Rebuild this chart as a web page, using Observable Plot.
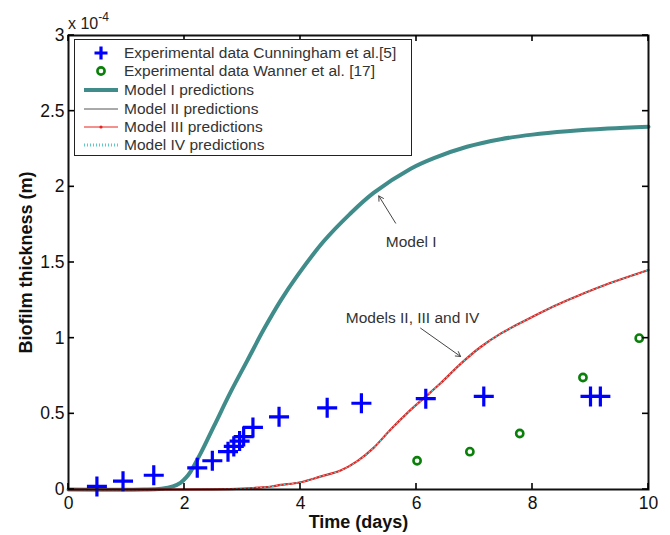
<!DOCTYPE html>
<html><head><meta charset="utf-8">
<script src="https://cdn.jsdelivr.net/npm/d3@7"></script>
<script src="https://cdn.jsdelivr.net/npm/@observablehq/plot@0.6"></script>
<style>
body{margin:0;background:#fff;}
#wrap{position:relative;width:670px;height:535px;font-family:"Liberation Sans",Arial,sans-serif;color:#222;}
#wrap svg{font-family:"Liberation Sans",Arial,sans-serif;}
g[aria-label="x-axis label"] text, g[aria-label="y-axis label"] text{font-weight:bold;font-size:18px;fill:#111;}
#legend{position:absolute;left:74px;top:39px;width:338px;height:117px;border:1.5px solid #222;background:#fff;box-sizing:border-box;}
.row{position:absolute;left:0;height:18px;display:flex;align-items:center;font-size:15.5px;color:#333;white-space:nowrap;}
.row svg{width:44px;height:18px;margin-left:4px;margin-right:1px;}
#expo{position:absolute;left:68px;top:12px;font-size:16px;color:#222;}
#expo sup{font-size:12px;position:relative;top:-2px;}
</style></head><body>
<div id="wrap"></div>
<script>
// Experimental data (thickness in units of 1e-4 m)
const cunninghamX = [0.49, 0.94, 1.47, 2.22, 2.48, 2.75, 2.85, 2.95, 3.02, 3.18, 3.63, 4.46, 5.05, 6.16, 7.16, 9.00, 9.17];
const cunninghamY = [0.02, 0.055, 0.094, 0.143, 0.19, 0.25, 0.285, 0.32, 0.35, 0.41, 0.48, 0.54, 0.57, 0.60, 0.615, 0.615, 0.615];
const wannerX = [6.01, 6.92, 7.78, 8.87, 9.84];
const wannerY = [0.19, 0.25, 0.37, 0.74, 1.00];
// Model predictions
const model1X = [0, 1.3, 1.6, 1.8, 1.93, 2.03, 2.10, 2.28, 2.51, 2.79, 3.08, 3.37, 3.66, 3.94, 4.40, 4.85, 5.26, 5.9, 6.3, 6.87, 7.45, 8.0, 8.6, 9.3, 10];
const model1Y = [0, 0, 0.005, 0.02, 0.044, 0.08, 0.115, 0.24, 0.42, 0.64, 0.85, 1.06, 1.25, 1.41, 1.64, 1.82, 1.96, 2.12, 2.19, 2.265, 2.315, 2.345, 2.367, 2.385, 2.397];
const model2X = [0, 2.5, 3.0, 3.5, 3.66, 4.0, 4.34, 4.69, 4.98, 5.26, 5.55, 5.84, 6.13, 6.41, 6.76, 7.10, 7.45, 7.79, 8.2, 8.6, 9.17, 10];
const model2Y = [0, 0.001, 0.006, 0.02, 0.03, 0.048, 0.085, 0.125, 0.187, 0.275, 0.395, 0.505, 0.605, 0.70, 0.83, 0.94, 1.03, 1.10, 1.18, 1.25, 1.34, 1.45];
// Axis ticks
const xTicks = [0, 2, 4, 6, 8, 10];
const yTicks = [0, 0.5, 1, 1.5, 2, 2.5, 3];
// Annotations
const annText = ["Model I", "Models II, III and IV"];
const annTextX = [5.47, 4.78];
const annTextY = [1.635, 1.134];
const arrowX1 = [5.64, 6.07], arrowY1 = [1.76, 1.066];
const arrowX2 = [5.35, 6.76], arrowY2 = [1.94, 0.879];
const legendLabels = ["Experimental data Cunningham et al.[5]", "Experimental data Wanner et al. [17]", "Model I predictions", "Model II predictions", "Model III predictions", "Model IV predictions"];

const cun = cunninghamX.map((x, i) => ({x, y: cunninghamY[i]}));
const wan = wannerX.map((x, i) => ({x, y: wannerY[i]}));
const m1 = model1X.map((x, i) => ({x, y: model1Y[i]}));
const m2 = model2X.map((x, i) => ({x, y: model2Y[i]}));
const ann = annText.map((t, i) => ({t, x: annTextX[i], y: annTextY[i]}));
const arr = arrowX1.map((x1, i) => ({x1, y1: arrowY1[i], x2: arrowX2[i], y2: arrowY2[i]}));

const teal = "#3f8c8a";
const W = 670, H = 535, mL = 68, mR = 22, mT = 35, mB = 46;
const plot = Plot.plot({
  width: W, height: H,
  marginLeft: mL, marginRight: mR, marginTop: mT, marginBottom: mB,
  style: {fontSize: "17.5px", fontFamily: "Liberation Sans, Arial, sans-serif", color: "#111", background: "#fff"},
  x: {domain: [0, 10]},
  y: {domain: [0, 3]},
  marks: [
    Plot.line(m1, {x: "x", y: "y", stroke: teal, strokeWidth: 4, curve: "catmull-rom"}),
    Plot.line(m2, {x: "x", y: "y", stroke: "black", strokeWidth: 1, curve: "catmull-rom"}),
    Plot.line(m2, {x: "x", y: "y", stroke: "#e8221f", strokeWidth: 2.2, curve: "catmull-rom"}),
    Plot.line(m2, {x: "x", y: "y", stroke: "#5fc8c8", strokeWidth: 1.2, strokeDasharray: "1,3", curve: "catmull-rom"}),
    Plot.dot(cun, {x: "x", y: "y", symbol: "plus", r: 6.5, stroke: "#0000ff", strokeWidth: 3.2}),
    Plot.dot(wan, {x: "x", y: "y", symbol: "circle", r: 3.6, stroke: "#0a800a", strokeWidth: 2.6, fill: "none"}),
    Plot.arrow(arr, {x1: "x1", y1: "y1", x2: "x2", y2: "y2", stroke: "#444", strokeWidth: 1, headLength: 8}),
    Plot.text(ann, {x: "x", y: "y", text: "t", textAnchor: "start", fontSize: 15.5, fill: "#333"}),
    Plot.frame({stroke: "#111", strokeWidth: 2}),
    Plot.axisX({ticks: xTicks, tickSize: 0, tickPadding: 7, tickFormat: d => d, label: "Time (days)", labelAnchor: "center", labelArrow: "none", labelOffset: 38}),
    Plot.axisY({ticks: yTicks, tickSize: 0, tickPadding: 4, tickFormat: d => d, label: "Biofilm thickness (m)", labelAnchor: "center", labelArrow: "none", labelOffset: 49})
  ]
});
const wrap = document.getElementById("wrap");
wrap.appendChild(plot);

// Inward ticks on all four sides, positioned through the plot's own scales
const sx = plot.scale("x"), sy = plot.scale("y");
const tg = d3.select(plot).append("g").attr("stroke", "#000").attr("stroke-width", 1.6);
const xl = sx.range[0], xr = sx.range[1], yb = sy.range[0], yt = sy.range[1], tk = 6;
xTicks.forEach(v => {
  const px = sx.apply(v);
  tg.append("line").attr("x1", px).attr("x2", px).attr("y1", yb).attr("y2", yb - tk);
  tg.append("line").attr("x1", px).attr("x2", px).attr("y1", yt).attr("y2", yt + tk);
});
yTicks.forEach(v => {
  const py = sy.apply(v);
  tg.append("line").attr("y1", py).attr("y2", py).attr("x1", xl).attr("x2", xl + tk);
  tg.append("line").attr("y1", py).attr("y2", py).attr("x1", xr).attr("x2", xr - tk);
});

const expo = document.createElement("div");
expo.id = "expo";
expo.innerHTML = "x 10<sup>-4</sup>";
wrap.appendChild(expo);

// Legend
const swatches = [
  `<path d="M22 2.5 V15.5 M15.5 9 H28.5" stroke="#0000ff" stroke-width="3.2"/>`,
  `<circle cx="22" cy="9" r="3.6" stroke="#0a800a" stroke-width="2.6" fill="none"/>`,
  `<line x1="5" x2="39" y1="9" y2="9" stroke="${teal}" stroke-width="4"/>`,
  `<line x1="5" x2="39" y1="9" y2="9" stroke="#555" stroke-width="1"/>`,
  `<line x1="5" x2="39" y1="9" y2="9" stroke="#e8221f" stroke-width="1"/><circle cx="22" cy="9" r="1.6" fill="#e8221f"/>`,
  `<line x1="5" x2="39" y1="9" y2="9" stroke="#5fc8c8" stroke-width="3" stroke-dasharray="1,2"/>`
];
const legend = document.createElement("div");
legend.id = "legend";
const rowTops = [3.5, 22, 41, 59.5, 78, 96];
legendLabels.forEach((lab, i) => {
  const r = document.createElement("div");
  r.className = "row";
  r.style.top = rowTops[i] + "px";
  r.innerHTML = `<svg viewBox="0 0 44 18">${swatches[i]}</svg><span>${lab}</span>`;
  legend.appendChild(r);
});
wrap.appendChild(legend);
</script>
</body></html>
